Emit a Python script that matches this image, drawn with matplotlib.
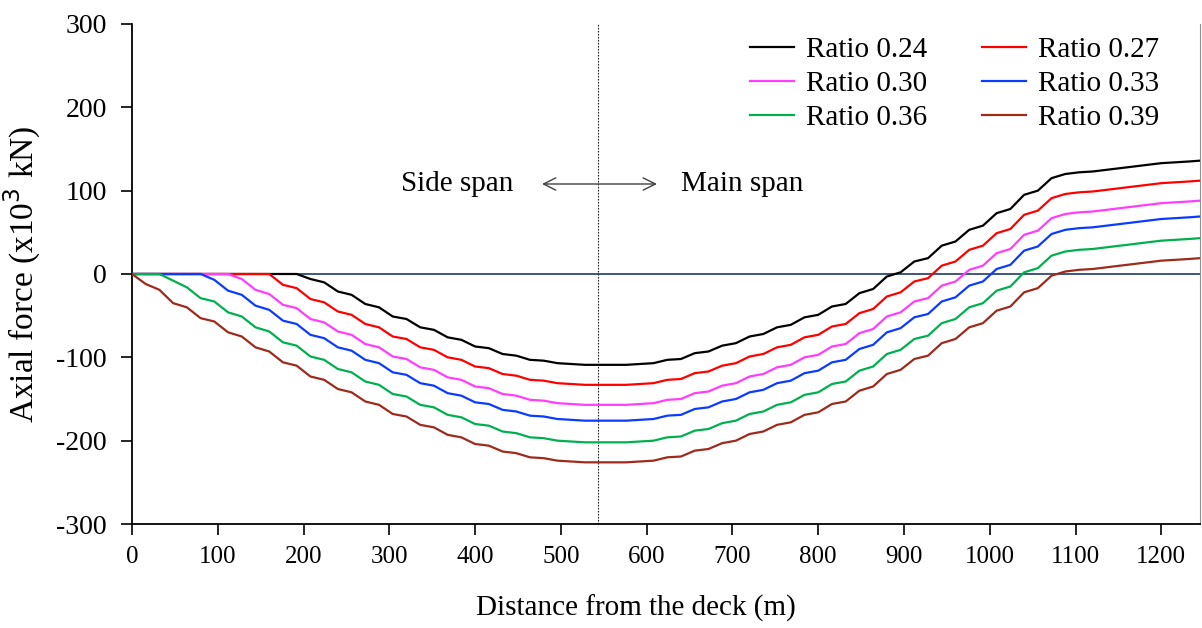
import matplotlib.pyplot as plt

plt.rcParams['font.family'] = ['Liberation Serif', 'DejaVu Serif']
plt.rcParams['axes.unicode_minus'] = False

# distance along the deck (m)
dist = [0, 16, 32, 48, 64, 80, 96, 112, 128, 144, 160, 176, 192, 208, 224, 240,
        256, 272, 288, 304, 320, 336, 352, 368, 384, 400, 416, 432, 448, 464, 480,
        496, 512, 528, 544, 560, 576, 592, 608, 624, 640, 656, 672, 688, 704, 720,
        736, 752, 768, 784, 800, 816, 832, 848, 864, 880, 896, 912, 928, 944, 960,
        976, 992, 1008, 1024, 1040, 1056, 1072, 1088, 1104, 1120, 1136, 1152, 1168,
        1184, 1200, 1216, 1232, 1245]

# axial force (x10^3 kN) for each ratio
r024 = [0, 0, 0, 0, 0, 0, 0, 0, 0, 0, 0, 0, 0, -6, -10, -21,
        -25, -36, -40, -51, -54, -64, -67, -76, -79, -87, -89, -96, -98, -103, -104,
        -107, -108, -109, -109, -109, -109, -108, -107, -103, -102, -95, -93, -86, -83, -75,
        -72, -64, -61, -52, -49, -39, -36, -23, -18, -3, 2, 15, 19, 34, 39,
        53, 58, 73, 78, 95, 100, 115, 120, 122, 123, 125, 127, 129,
        131, 133, 134, 135, 136]
r027 = [0, 0, 0, 0, 0, 0, 0, 0, 0, 0, 0, -13, -17, -30, -34, -45,
        -49, -60, -64, -75, -78, -88, -91, -100, -103, -111, -113, -120, -122, -127, -128,
        -131, -132, -133, -133, -133, -133, -132, -131, -127, -126, -119, -117, -110, -107, -99,
        -96, -88, -85, -76, -73, -63, -60, -47, -42, -27, -22, -9, -5, 10, 15,
        29, 34, 49, 54, 71, 76, 91, 96, 98, 99, 101, 103, 105,
        107, 109, 110, 111, 112]
r030 = [0, 0, 0, 0, 0, 0, 0, 0, -6, -19, -24, -37, -41, -54, -58, -69,
        -73, -84, -88, -99, -102, -112, -115, -124, -127, -135, -137, -144, -146, -151, -152,
        -155, -156, -157, -157, -157, -157, -156, -155, -151, -150, -143, -141, -134, -131, -123,
        -120, -112, -109, -100, -97, -87, -84, -71, -66, -51, -46, -33, -29, -14, -9,
        5, 10, 25, 30, 47, 52, 67, 72, 74, 75, 77, 79, 81,
        83, 85, 86, 87, 88]
r033 = [0, 0, 0, 0, 0, 0, -7, -20, -25, -38, -43, -56, -60, -73, -77, -88,
        -92, -103, -107, -118, -121, -131, -134, -143, -146, -154, -156, -163, -165, -170, -171,
        -174, -175, -176, -176, -176, -176, -175, -174, -170, -169, -162, -160, -153, -150, -142,
        -139, -131, -128, -119, -116, -106, -103, -90, -85, -70, -65, -52, -48, -33, -28,
        -14, -9, 6, 11, 28, 33, 48, 53, 55, 56, 58, 60, 62,
        64, 66, 67, 68, 69]
r036 = [0, 0, 0, -8, -16, -29, -33, -46, -51, -64, -69, -82, -86, -99, -103, -114,
        -118, -129, -133, -144, -147, -157, -160, -169, -172, -180, -182, -189, -191, -196, -197,
        -200, -201, -202, -202, -202, -202, -201, -200, -196, -195, -188, -186, -179, -176, -168,
        -165, -157, -154, -145, -142, -132, -129, -116, -111, -96, -91, -78, -74, -59, -54,
        -40, -35, -20, -15, 2, 7, 22, 27, 29, 30, 32, 34, 36,
        38, 40, 41, 42, 43]
r039 = [0, -12, -19, -35, -40, -53, -57, -70, -75, -88, -93, -106, -110, -123, -127, -138,
        -142, -153, -157, -168, -171, -181, -184, -193, -196, -204, -206, -213, -215, -220, -221,
        -224, -225, -226, -226, -226, -226, -225, -224, -220, -219, -212, -210, -203, -200, -192,
        -189, -181, -178, -169, -166, -156, -153, -140, -135, -120, -115, -102, -98, -83, -78,
        -64, -59, -44, -39, -22, -17, -2, 3, 5, 6, 8, 10, 12,
        14, 16, 17, 18, 19]

labels = ['Ratio 0.24', 'Ratio 0.27', 'Ratio 0.30', 'Ratio 0.33', 'Ratio 0.36', 'Ratio 0.39']
colors = ['#000000', '#FF0000', '#FF3DFF', '#0A3CFF', '#00B050', '#9E2A1C']
pylon_x = 543

fig = plt.figure(figsize=(12.02, 6.28), dpi=100)
ax = fig.add_axes([0.1098, 0.1656, 0.8885, 0.7962])

lines = {}
for lab, col, ys in zip(labels, colors, [r024, r027, r030, r033, r036, r039]):
    lines[lab], = ax.plot(dist, ys, color=col, lw=1.6, label=lab, zorder=3)

ax.axhline(0, color='#2F4A73', lw=1.3, zorder=2)
ax.axvline(pylon_x, color='#202020', lw=0.8, ls=(0, (1.5, 1.2)), zorder=2)

ax.set_xlim(0, 1245)
ax.set_ylim(-300, 300)
ax.set_xticks(range(0, 1201, 100))
ax.set_yticks(range(-300, 301, 100))
ax.tick_params(direction='out', length=8, width=1.2)
ax.tick_params(axis='y', labelsize=20, pad=10)
ax.tick_params(axis='x', labelsize=18, pad=8)
ax.spines['top'].set_visible(False)
ax.spines['right'].set_color('#909090')
ax.spines['left'].set_linewidth(1.3)
ax.spines['bottom'].set_linewidth(1.3)

ax.set_xlabel('Distance from the deck (m)', fontsize=21)
ax.set_ylabel('Axial force (x10$^3$ kN)', fontsize=24)
ax.xaxis.set_label_coords(0.472, -0.142)
ax.yaxis.set_label_coords(-0.083, 0.5)

# span annotation around the pylon
ax.annotate('', xy=(478, 108), xytext=(612, 108),
            arrowprops=dict(arrowstyle='<->', color='#404040', lw=1,
                            mutation_scale=22, shrinkA=0, shrinkB=0))
ax.text(379, 108, 'Side span', fontsize=21, ha='center', va='center')
ax.text(711, 108, 'Main span', fontsize=21, ha='center', va='center')

order = ['Ratio 0.24', 'Ratio 0.30', 'Ratio 0.36', 'Ratio 0.27', 'Ratio 0.33', 'Ratio 0.39']
ax.legend([lines[k] for k in order], order, ncol=2, frameon=False, fontsize=21,
          loc='upper left', bbox_to_anchor=(0.579, 0.975), borderpad=0, borderaxespad=0,
          handlelength=1.5, handletextpad=0.4, columnspacing=1.9, labelspacing=0.27)

plt.savefig('out.png', dpi=100)
